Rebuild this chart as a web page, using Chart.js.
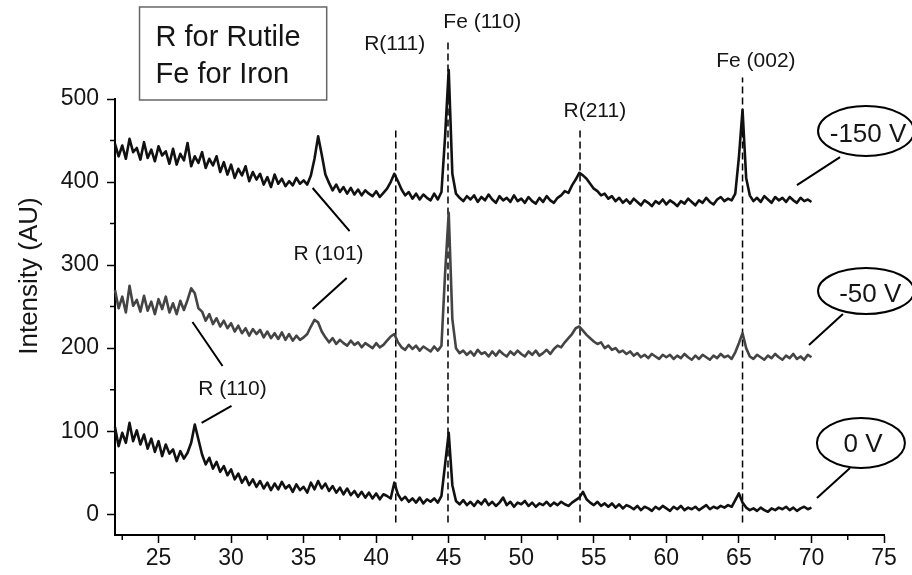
<!DOCTYPE html>
<html>
<head>
<meta charset="utf-8">
<script src="https://cdn.jsdelivr.net/npm/chart.js@4.4.1/dist/chart.umd.min.js"></script>
<style>
  body { margin: 0; background: #fff; }
  #wrap { width: 912px; height: 575px; }
</style>
</head>
<body>
<div id="wrap"><canvas id="xrdChart" width="912" height="575"></canvas></div>
<script>
// XRD scans of the coatings at three bias voltages

// 2-theta (deg), shared by the three scans
const twoTheta = [
  22, 22.25, 22.5, 22.75, 23, 23.25, 23.5, 23.75,
  24, 24.25, 24.5, 24.75, 25, 25.25, 25.5, 25.75,
  26, 26.25, 26.5, 26.75, 27, 27.25, 27.5, 27.75,
  28, 28.25, 28.5, 28.75, 29, 29.25, 29.5, 29.75,
  30, 30.25, 30.5, 30.75, 31, 31.25, 31.5, 31.75,
  32, 32.25, 32.5, 32.75, 33, 33.25, 33.5, 33.75,
  34, 34.25, 34.5, 34.75, 35, 35.25, 35.5, 35.75,
  36, 36.25, 36.5, 36.75, 37, 37.25, 37.5, 37.75,
  38, 38.25, 38.5, 38.75, 39, 39.25, 39.5, 39.75,
  40, 40.25, 40.5, 40.75, 41, 41.25, 41.5, 41.75,
  42, 42.25, 42.5, 42.75, 43, 43.25, 43.5, 43.75,
  44, 44.25, 44.5, 44.75, 45, 45.25, 45.5, 45.75,
  46, 46.25, 46.5, 46.75, 47, 47.25, 47.5, 47.75,
  48, 48.25, 48.5, 48.75, 49, 49.25, 49.5, 49.75,
  50, 50.25, 50.5, 50.75, 51, 51.25, 51.5, 51.75,
  52, 52.25, 52.5, 52.75, 53, 53.25, 53.5, 53.75,
  54, 54.25, 54.5, 54.75, 55, 55.25, 55.5, 55.75,
  56, 56.25, 56.5, 56.75, 57, 57.25, 57.5, 57.75,
  58, 58.25, 58.5, 58.75, 59, 59.25, 59.5, 59.75,
  60, 60.25, 60.5, 60.75, 61, 61.25, 61.5, 61.75,
  62, 62.25, 62.5, 62.75, 63, 63.25, 63.5, 63.75,
  64, 64.25, 64.5, 64.75, 65, 65.25, 65.5, 65.75,
  66, 66.25, 66.5, 66.75, 67, 67.25, 67.5, 67.75,
  68, 68.25, 68.5, 68.75, 69, 69.25, 69.5, 69.75,
  70
];

// -150 V scan
const scan150V = [
  446, 431, 444, 428, 452, 436, 441, 427,
  448, 429, 439, 425, 443, 432, 437, 422,
  440, 421, 434, 426, 447, 419, 431, 423,
  436, 417, 428, 420, 431, 412, 424, 409,
  421, 405, 416, 408, 419, 401, 412, 403,
  410, 397, 406, 394, 409, 398, 404, 395,
  401, 396, 405, 398, 402, 397, 408, 428,
  455, 433, 409, 399, 390, 397, 388, 394,
  386, 393, 385, 391, 384, 390, 386, 383,
  389, 382, 387, 392, 400, 410, 401, 391,
  384, 388, 380, 386, 379, 385, 381, 378,
  386, 379, 388, 455, 535, 410, 386, 381,
  377, 383, 379, 384, 376, 382, 378, 385,
  379, 375, 383, 378, 381, 376, 384, 377,
  380, 375, 382, 377, 374, 381, 376, 383,
  378, 375, 381, 384, 389, 387, 396, 403,
  411, 408, 404, 398, 392, 389, 384, 386,
  380, 383, 377, 381, 375, 379, 374, 380,
  376, 372, 378, 375, 371, 377, 374, 379,
  373, 378, 375, 371, 377, 374, 380, 376,
  372, 378, 375, 381, 376, 373, 379, 382,
  377, 380, 378, 386, 430, 487, 405, 384,
  377, 381, 376, 383, 379, 375, 382, 378,
  381, 376, 382, 378, 375, 381, 377, 379,
  376
];

// -50 V scan
const scan50V = [
  270, 248, 262, 243, 275, 251, 258, 244,
  263, 245, 256, 241, 259, 247, 262, 243,
  254, 241, 257, 246, 258, 272, 266, 248,
  244, 233, 241, 229, 236, 226, 233, 224,
  230, 220, 227, 218, 224, 215, 223, 217,
  222, 213, 220, 212, 218, 211, 219, 210,
  217, 209, 215, 210, 213, 217, 226, 234,
  231, 220, 213, 207, 212, 205, 210, 206,
  203, 209, 204, 207, 201, 206, 203, 200,
  206, 201, 204, 209, 214, 217, 207, 201,
  198, 204, 199, 203, 197, 202, 199, 196,
  202, 197, 203, 290, 363, 235, 200, 194,
  197, 192, 196, 191, 198, 193, 195, 190,
  196, 191, 197, 193, 190, 196, 192, 197,
  193, 190, 196, 192, 197, 191, 194, 198,
  193, 199, 203, 201, 207, 212, 217, 224,
  226, 221, 216, 212, 208, 205, 207, 200,
  203, 198, 200, 195, 197, 193, 196, 191,
  194, 189, 192, 188, 193, 190, 187, 192,
  189, 192, 187, 191, 188, 193, 189, 186,
  191, 187, 192, 189, 186, 191, 188, 193,
  189, 191, 187, 195, 206, 218, 200, 190,
  187, 192, 189, 186, 191, 188, 193, 189,
  186, 191, 188, 193, 187, 190, 186, 192,
  189
];

// 0 V scan
const scan0V = [
  105, 82, 98, 86, 110, 88, 101, 84,
  96, 79, 91, 75, 88, 70, 84, 73,
  78, 64, 76, 67, 74, 86, 108, 90,
  72, 60, 68, 55, 63, 51, 58, 47,
  54, 42, 49, 38, 45, 35, 42, 33,
  40, 31, 38, 29, 37, 30, 39, 31,
  35, 27, 36, 29, 33, 26, 38, 30,
  40, 31, 37, 28, 34, 26, 32, 24,
  31, 23, 28, 21, 27, 20, 26, 19,
  25, 18, 24, 22, 19, 38, 24, 17,
  21, 15, 19, 14, 20, 13, 18, 15,
  19, 14, 22, 60, 98, 35, 16, 12,
  17, 11, 15, 10, 16, 12, 18, 11,
  15, 10, 14, 20, 11, 15, 9, 14,
  12, 16, 10, 14, 9, 13, 11, 15,
  10, 14, 11, 15, 12, 10, 14, 17,
  20, 27, 18, 14, 11, 15, 10, 13,
  9, 13, 8, 12, 7, 11, 9, 6,
  10, 5, 9, 7, 4, 9, 6, 10,
  7, 4, 9, 6, 10, 5, 8, 6,
  9, 5, 8, 11, 6, 9, 7, 10,
  8, 11, 9, 17, 25, 14, 8, 5,
  7, 4, 8, 5, 3, 7, 5, 8,
  6, 9, 5, 8, 4, 7, 9, 6,
  8
];

const xMajorTicks = [25, 30, 35, 40, 45, 50, 55, 60, 65, 70, 75];
const xMinorTicks = [22.5, 27.5, 32.5, 37.5, 42.5, 47.5, 52.5, 57.5, 62.5, 67.5, 72.5];
const yMajorTicks = [0, 100, 200, 300, 400, 500];
const yMinorTicks = [50, 150, 250, 350, 450];

// reference reflections: 2-theta of the dashed markers and how high each one reaches
const peakNames = ['R(111)', 'Fe (110)', 'R(211)', 'Fe (002)'];
const peakPositions = [41.35, 44.95, 54.05, 65.25];
const peakLineTops = [466, 573, 463, 526];
const peakLineBottom = -10;

const FONT = "'Liberation Sans', Arial, sans-serif";
const INK = '#151515';

function toPoints(values) {
  return values.map((v, i) => ({ x: twoTheta[i], y: v }));
}

function scanDataset(label, values, color) {
  return {
    label: label,
    data: toPoints(values),
    showLine: true,
    borderColor: color,
    borderWidth: 2.6,
    borderJoinStyle: 'round',
    pointRadius: 0,
    tension: 0,
    clip: false
  };
}

const markerSets = peakPositions.map((p, i) => ({
  label: peakNames[i],
  data: [{ x: p, y: peakLineBottom }, { x: p, y: peakLineTops[i] }],
  showLine: true,
  borderColor: '#000',
  borderWidth: 1.5,
  borderDash: [7, 4],
  pointRadius: 0,
  clip: false
}));

// text, boxes and leader lines placed in data units (2-theta, intensity)
const peakLabels = [
  { text: 'R(111)', x: 41.28, y: 559 },
  { text: 'Fe (110)', x: 47.31, y: 585 },
  { text: 'R(211)', x: 55.07, y: 478 },
  { text: 'Fe (002)', x: 66.17, y: 538 },
  { text: 'R (101)', x: 36.72, y: 306 },
  { text: 'R (110)', x: 30.10, y: 143.6 }
];
const leaders = [
  [35.62, 392.8, 38.17, 341.0],
  [37.97, 284.4, 35.62, 247.1],
  [27.34, 231.5, 29.41, 178.5],
  [30.03, 130.4, 27.97, 109.9],
  [71.97, 430.1, 69.00, 396.4],
  [72.17, 241.1, 69.83, 203.8],
  [72.66, 55.7, 70.38, 19.6]
];
const biasTags = [
  { text: '-150 V', x: 73.76, y: 461.4, tx: 73.90, ty: 448, rx: 48, ry: 25 },
  { text: '-50 V', x: 73.76, y: 268.8, tx: 74.05, ty: 256, rx: 48, ry: 23 },
  { text: '0 V', x: 73.41, y: 85.7, tx: 73.55, ty: 75, rx: 44, ry: 25 }
];

const decorations = {
  id: 'decorations',
  afterDraw(chart) {
    const { ctx, chartArea, scales } = chart;
    const X = v => scales.x.getPixelForValue(v);
    const Y = v => scales.y.getPixelForValue(v);
    ctx.save();

    // minor ticks
    ctx.strokeStyle = '#000';
    ctx.lineWidth = 1.5;
    ctx.beginPath();
    xMinorTicks.forEach(v => {
      ctx.moveTo(X(v), chartArea.bottom);
      ctx.lineTo(X(v), chartArea.bottom + 5);
    });
    yMinorTicks.forEach(v => {
      ctx.moveTo(chartArea.left, Y(v));
      ctx.lineTo(chartArea.left - 5, Y(v));
    });
    ctx.stroke();

    // y axis title
    ctx.fillStyle = INK;
    ctx.font = '26px ' + FONT;
    ctx.save();
    ctx.translate(37, 276);
    ctx.rotate(-Math.PI / 2);
    ctx.textAlign = 'center';
    ctx.textBaseline = 'alphabetic';
    ctx.fillText('Intensity (AU)', 0, 0);
    ctx.restore();

    // key box
    ctx.strokeStyle = '#666';
    ctx.lineWidth = 1.5;
    const bx = X(23.69), by = Y(610.8);
    ctx.strokeRect(bx, by, X(36.59) - bx, Y(498.8) - by);
    ctx.font = '29px ' + FONT;
    ctx.textAlign = 'left';
    ctx.fillText('R for Rutile', X(24.79), Y(563.8));
    ctx.fillText('Fe for Iron', X(24.79), Y(519.2));

    // peak labels
    ctx.font = '21px ' + FONT;
    ctx.textAlign = 'center';
    peakLabels.forEach(l => ctx.fillText(l.text, X(l.x), Y(l.y)));

    // leader lines
    ctx.strokeStyle = '#000';
    ctx.lineWidth = 2;
    ctx.beginPath();
    leaders.forEach(s => {
      ctx.moveTo(X(s[0]), Y(s[1]));
      ctx.lineTo(X(s[2]), Y(s[3]));
    });
    ctx.stroke();

    // bias voltage tags
    ctx.font = '26px ' + FONT;
    biasTags.forEach(t => {
      ctx.beginPath();
      ctx.ellipse(X(t.x), Y(t.y), t.rx, t.ry, 0, 0, Math.PI * 2);
      ctx.stroke();
      ctx.fillText(t.text, X(t.tx), Y(t.ty));
    });

    ctx.restore();
  }
};

const ctx = document.getElementById('xrdChart').getContext('2d');
new Chart(ctx, {
  type: 'scatter',
  data: {
    datasets: [
      scanDataset('-150 V', scan150V, '#111'),
      scanDataset('-50 V', scan50V, '#444'),
      scanDataset('0 V', scan0V, '#111'),
      ...markerSets
    ]
  },
  options: {
    responsive: false,
    animation: false,
    devicePixelRatio: 1,
    layout: { padding: { top: 99, right: 28, left: 0, bottom: 0 } },
    plugins: { legend: { display: false }, tooltip: { enabled: false } },
    scales: {
      x: {
        type: 'linear',
        min: 22,
        max: 75,
        afterBuildTicks: s => { s.ticks = xMajorTicks.map(v => ({ value: v })); },
        afterFit: s => { s.height = 40; },
        ticks: { color: INK, font: { family: FONT, size: 23 }, padding: 2 },
        grid: { drawOnChartArea: false, drawTicks: true, tickLength: 8, tickWidth: 1.5, tickColor: '#000' },
        border: { display: true, color: '#000', width: 2 }
      },
      y: {
        type: 'linear',
        min: -25,
        max: 500,
        afterBuildTicks: s => { s.ticks = yMajorTicks.map(v => ({ value: v })); },
        afterFit: s => { s.width = 115; },
        ticks: { color: INK, font: { family: FONT, size: 23 }, padding: 8 },
        grid: { drawOnChartArea: false, drawTicks: true, tickLength: 8, tickWidth: 1.5, tickColor: '#000' },
        border: { display: true, color: '#000', width: 2 }
      }
    }
  },
  plugins: [decorations]
});
</script>
</body>
</html>
